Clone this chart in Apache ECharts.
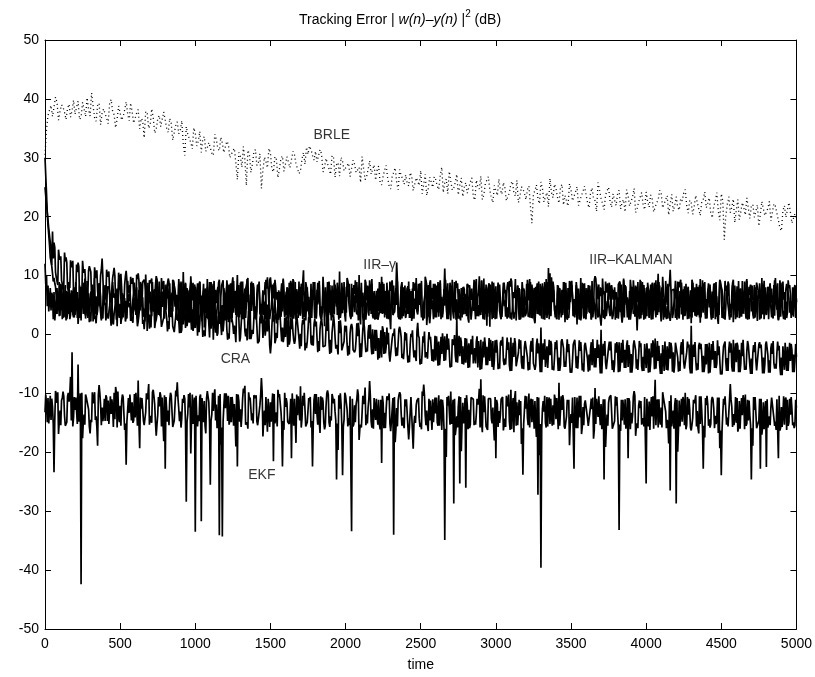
<!DOCTYPE html>
<html>
<head>
<meta charset="utf-8">
<script src="https://cdn.jsdelivr.net/npm/echarts@6/dist/echarts.min.js"></script>
<style>
html,body{margin:0;padding:0;background:#fff;}
#chart{width:815px;height:677px;}
</style>
</head>
<body>
<div id="chart"></div>
<script>
// time between stored samples = 5.
// "A" arrays: t = 0,20,40,...  "C": t = 5,25,45,...  "B": t = 10,30,50,...  "D": t = 15,35,55,...
const sampleStep = 5;

const brleA = [
30.5,37.2,38.9,36.8,39.4,37.9,38.6,36.5,39.1,38.0,
37.4,39.6,36.9,38.3,40.2,37.1,38.8,36.2,39.3,37.6,
38.5,35.8,39.9,37.3,36.6,38.7,37.0,39.5,36.3,37.8,
35.9,38.2,36.7,33.4,37.5,35.6,36.9,34.8,37.2,35.1,
36.4,34.3,35.8,33.2,36.1,34.6,32.4,35.3,33.7,31.5,
34.2,32.8,30.9,33.6,31.7,32.9,30.4,33.1,31.2,32.5,
30.7,32.3,29.8,31.6,26.3,30.2,31.9,25.3,30.6,28.9,
31.4,29.2,24.8,30.1,28.3,30.8,27.6,29.7,28.1,30.3,
27.4,29.9,28.6,30.5,29.3,27.8,30.9,31.8,32.0,30.4,
31.1,29.0,30.7,28.4,29.6,27.2,30.0,28.8,26.9,29.4,
27.7,29.1,26.5,28.9,27.3,25.8,28.2,26.8,29.5,27.0,
26.2,28.6,25.4,27.9,26.6,24.7,27.5,25.9,28.0,26.4,
27.1,25.2,26.9,24.3,26.0,27.8,25.5,23.6,26.7,25.0,
26.3,24.6,28.4,25.7,23.9,26.1,24.9,27.2,25.3,23.4,
25.8,24.2,26.6,22.8,25.1,26.9,23.7,25.4,24.5,22.4,
25.0,26.4,23.8,24.9,22.6,25.6,24.0,26.2,23.3,24.7,
22.9,25.2,18.9,24.4,23.1,25.9,22.5,24.1,26.5,23.2,
24.8,22.3,25.5,23.6,21.8,24.6,23.0,25.1,22.2,24.3,
23.7,21.5,24.9,22.7,25.8,23.1,21.2,24.4,22.6,23.9,
21.9,24.5,22.4,20.8,23.5,22.1,24.8,21.4,23.3,22.0,
24.2,21.6,23.0,20.5,22.8,24.0,21.3,23.6,22.2,20.9,
23.4,21.1,22.7,24.6,20.6,22.3,21.8,23.8,20.2,22.9,
21.5,23.2,19.8,22.6,21.0,23.9,16.1,22.1,20.7,23.0,
21.2,19.5,22.4,20.3,23.5,21.7,19.9,22.0,18.6,21.3,
20.1,22.6,19.2,21.8,20.4,17.6,21.9,19.6,20.8,19.0,
19.8];
const brleB = [
34.8,38.1,37.0,40.3,36.4,39.0,37.7,38.4,36.9,39.8,
38.6,36.5,39.4,37.0,38.2,41.0,36.8,38.9,35.6,38.3,
36.7,39.2,37.9,35.1,38.8,36.4,38.1,37.5,39.3,35.9,
37.6,34.9,36.3,37.9,35.0,38.3,34.2,36.6,35.3,37.8,
34.9,36.7,33.0,35.5,34.1,36.3,30.4,34.0,32.6,35.1,
32.0,34.5,33.2,31.1,32.6,30.8,34.0,31.6,33.5,30.9,
32.8,30.0,31.2,29.1,30.9,28.4,29.7,31.3,27.5,31.0,
28.7,30.7,27.9,29.4,31.6,28.0,30.2,26.6,29.9,27.7,
30.2,28.3,31.1,29.0,27.3,29.8,28.9,30.6,31.4,29.6,
29.3,31.4,27.6,29.9,28.1,30.4,26.7,29.2,30.1,27.8,
28.7,26.8,29.6,27.5,28.4,30.2,26.3,28.0,27.2,28.8,
27.9,25.8,26.9,28.7,25.2,26.8,28.3,24.6,27.0,25.5,
25.7,27.5,24.4,26.6,25.3,23.9,27.2,24.8,25.9,26.8,
25.2,27.0,24.1,26.4,27.7,24.5,25.8,23.7,26.6,25.0,
24.0,25.9,23.4,26.2,24.7,22.9,25.6,26.8,23.2,25.3,
23.6,24.5,25.8,22.7,24.1,26.0,23.5,22.4,25.1,24.0,
24.6,21.8,23.9,25.4,22.2,24.8,23.4,21.7,24.1,25.5,
23.3,24.9,22.0,23.8,25.6,22.7,24.2,21.9,23.6,25.2,
22.4,24.0,23.1,20.9,24.5,22.2,23.7,25.0,21.6,22.8,
23.9,21.3,22.9,24.6,21.8,23.4,20.7,22.5,24.1,21.2,
22.6,23.7,20.8,22.4,24.5,21.5,22.9,20.3,23.8,21.9,
21.6,23.1,24.0,21.9,22.8,20.4,23.6,21.3,22.5,24.2,
22.3,20.6,21.8,24.1,19.4,22.7,20.1,23.4,21.6,19.0,
22.9,20.8,21.5,23.2,19.7,22.1,20.9,18.4,22.6,20.2,
21.4,19.3,22.2,20.6,18.1,21.0,19.9,22.4,18.9,20.5];

const iirKalmanA = [
30.0,18.5,12.8,9.6,7.9,3.2,6.8,2.4,8.3,4.5,
5.9,1.8,7.4,3.6,9.1,4.8,2.2,6.5,8.7,3.1,
5.4,7.8,1.5,6.2,4.0,9.4,2.9,5.7,7.1,3.8,
6.6,2.3,8.5,4.4,0.6,7.3,5.2,3.0,9.0,4.7,
2.6,6.9,4.1,8.2,3.4,5.8,10.6,2.0,6.3,4.9,
7.7,3.3,5.5,1.2,8.0,4.3,6.7,2.7,9.3,5.0,
3.9,7.5,2.1,6.0,4.6,8.8,3.5,5.3,-0.8,6.4,
4.2,7.9,2.8,5.6,9.7,3.7,6.1,1.9,7.2,4.5,
5.8,2.5,8.4,4.1,6.6,3.2,10.9,5.1,2.4,7.0,
3.6,6.3,4.8,1.4,8.1,5.4,2.9,7.6,4.0,6.8,
2.2,5.9,8.6,3.8,6.2,1.7,7.4,4.6,9.2,3.1,
5.7,2.6,7.0,4.3,6.5,0.9,8.3,5.0,3.4,7.7,
4.4,9.0,2.3,6.1,3.9,7.5,5.2,1.6,8.7,4.8,
6.9,3.0,5.5,11.2,4.2,7.1,2.7,6.0,3.6,8.0,
5.3,2.0,7.8,4.5,6.4,3.3,9.5,5.6,1.3,6.7,
4.1,7.3,2.9,5.8,8.9,3.7,6.2,4.9,2.5,7.6,
5.0,3.4,8.2,1.9,6.6,4.3,7.0,2.8,10.4,5.5,
3.8,6.8,4.7,2.1,7.9,5.2,3.5,8.6,4.0,6.3,
2.6,5.7,9.1,3.9,6.0,1.5,7.4,4.4,5.9,3.2,
7.2,4.8,2.4,8.4,5.1,3.7,6.9,0.7,7.7,4.6,
6.1,3.0,8.8,4.2,5.6,2.2,7.3,4.9,11.0,3.6,
5.8,2.7,6.7,4.0,8.1,3.3,5.4,7.0,2.0,6.4,
4.5,8.7,3.1,5.9,1.8,7.5,4.7,6.2,3.5,9.3,
5.2,2.8,7.1,4.1,6.5,3.9,8.4,2.3,5.6,7.8,
3.4,6.0,4.6,9.6,2.5,5.7,7.2,3.7,6.8,4.3,
5.5];
const iirKalmanB = [
24.0,15.2,10.4,8.1,5.6,7.9,4.1,6.9,3.3,7.8,
4.6,8.3,5.9,2.7,7.0,5.1,9.6,4.0,6.4,8.2,
3.5,6.7,8.9,5.0,7.4,2.6,6.2,9.1,4.8,6.9,
8.0,4.9,6.3,10.2,5.3,3.1,7.7,5.9,2.9,8.4,
6.1,8.7,3.9,6.8,9.4,5.0,4.3,7.6,8.9,3.7,
5.6,9.0,6.4,3.6,7.1,8.6,4.7,6.0,2.8,7.9,
8.3,5.2,9.7,4.4,6.6,3.1,7.8,5.5,8.8,4.1,
6.9,3.4,7.5,9.3,4.8,6.3,8.5,5.1,3.0,7.2,
4.5,8.0,6.2,2.5,9.0,5.7,7.3,3.9,8.6,5.9,
7.6,4.2,9.8,6.1,3.7,8.3,5.4,7.0,4.6,8.9,
6.4,3.2,7.9,5.3,10.1,4.7,6.8,8.2,3.5,7.4,
4.9,8.6,6.0,3.3,7.5,9.2,5.6,2.9,8.1,6.2,
7.8,4.4,6.9,9.6,5.0,3.6,7.2,8.4,4.3,6.7,
3.8,8.7,5.5,7.1,4.1,9.3,6.4,3.4,7.9,5.2,
8.5,6.3,4.0,7.6,9.9,5.4,3.5,8.1,6.6,4.8,
7.3,3.1,8.8,5.7,6.9,4.3,9.4,5.9,7.7,3.9,
6.5,8.9,4.6,7.2,3.7,8.2,5.8,11.3,6.1,4.2,
8.4,5.1,7.0,3.2,9.1,6.6,4.5,7.8,5.3,8.7,
4.8,7.5,6.2,8.6,3.6,9.5,5.7,7.1,4.0,8.0,
6.3,3.8,9.2,5.0,7.4,4.4,8.3,6.0,3.3,7.9,
5.5,8.5,4.1,7.3,6.4,9.8,3.7,8.0,5.2,6.8,
9.0,4.6,7.7,5.9,3.4,8.8,6.2,4.9,8.1,5.6,
7.1,3.6,8.6,6.5,9.3,4.7,7.4,3.9,6.9,8.3,
4.3,7.8,5.4,9.1,6.7,3.5,8.0,6.1,9.6,4.9,
7.6,5.3,8.4,4.2,6.8,9.0,5.6,7.9,4.5,8.2];
const iirKalmanC = [
27.0,16.9,11.6,8.7,4.2,8.6,3.0,7.4,2.6,6.2,
8.9,3.4,6.1,9.5,2.8,7.3,5.6,3.3,8.0,5.1,
2.4,8.2,4.5,7.0,3.1,9.7,5.3,2.7,8.4,6.0,
3.3,7.6,5.0,2.2,8.8,4.0,6.9,9.2,3.8,6.5,
8.5,2.9,7.1,4.7,2.3,9.0,5.4,3.6,7.8,2.4,
6.3,8.1,2.2,7.6,5.9,3.5,9.1,4.4,6.7,3.0,
7.0,2.7,8.6,5.1,3.0,7.3,4.9,9.4,2.6,8.1,
3.2,9.0,5.3,2.6,7.7,4.4,8.8,3.1,6.0,9.5,
7.3,3.9,5.6,8.9,2.8,6.4,4.2,8.0,3.5,6.6,
2.9,8.4,3.6,7.3,5.5,2.4,9.3,3.3,7.1,4.2,
8.1,4.5,3.0,6.6,2.4,8.8,3.9,5.7,7.9,2.7,
7.4,3.8,8.9,5.1,2.6,6.4,3.7,9.0,5.9,3.1,
6.0,2.8,7.8,4.3,8.6,2.9,5.4,3.5,9.2,2.6,
8.3,5.6,2.9,6.8,3.3,5.9,8.9,2.7,5.4,3.4,
3.1,8.4,5.0,2.6,7.2,9.1,4.1,3.0,8.5,2.8,
6.9,4.0,5.9,3.0,7.8,2.5,6.6,8.3,4.0,2.9,
8.6,2.9,6.3,4.4,9.0,2.7,8.9,4.3,3.1,7.5,
2.6,7.9,3.3,6.6,4.2,8.4,2.9,5.7,9.6,2.7,
7.6,3.6,4.4,2.6,8.5,3.8,2.9,6.2,8.3,4.7,
4.3,8.8,3.9,6.5,2.9,8.1,3.0,4.6,9.1,2.5,
8.0,4.6,6.4,2.9,8.9,3.8,5.1,2.7,7.5,5.3,
3.2,7.4,2.5,8.6,5.0,2.9,8.0,3.3,6.3,8.7,
2.7,6.5,4.9,3.0,6.3,2.8,9.1,5.0,2.9,5.4,
8.2,3.3,6.4,2.7,8.1,5.7,2.9,7.4,3.6,2.6,
5.4,8.7,2.9,6.5,3.2,7.2,3.0,9.2,2.8,6.3];
const iirKalmanD = [
20.5,13.1,9.0,6.3,8.9,2.6,8.4,3.5,7.5,2.9,
7.2,2.8,8.8,4.4,3.1,8.5,3.4,7.9,2.7,5.0,
8.2,3.2,7.0,2.5,8.6,4.6,3.6,7.5,2.6,8.8,
2.9,8.9,3.0,7.0,5.6,8.9,2.5,4.7,7.3,2.7,
7.9,4.4,9.2,2.5,7.7,3.1,8.6,2.3,4.6,8.5,
3.2,6.2,8.6,3.8,2.6,7.3,2.6,8.8,3.7,6.6,
2.5,8.7,3.7,7.6,2.9,9.0,2.8,6.8,4.0,2.7,
8.4,5.2,3.3,7.8,2.6,8.5,3.0,7.5,4.6,2.9,
3.0,9.1,2.7,7.7,3.6,8.8,2.4,6.4,2.8,8.9,
5.1,2.7,7.1,3.0,8.4,2.9,7.0,2.5,8.8,3.3,
8.8,2.8,6.6,8.9,3.0,7.1,2.5,4.0,8.6,3.1,
2.5,6.9,3.6,8.8,2.8,5.0,7.9,3.9,2.7,8.3,
3.5,7.4,2.7,4.8,7.7,2.4,8.8,3.0,5.9,8.6,
8.0,2.6,7.3,2.8,8.8,3.6,2.5,7.7,2.9,6.9,
2.7,5.9,8.8,3.1,4.5,2.6,6.0,8.7,2.6,7.7,
8.8,2.6,4.8,8.1,2.7,7.2,2.4,7.9,2.9,6.4,
3.0,6.0,2.6,8.7,3.2,5.1,8.6,2.6,7.8,3.4,
6.8,2.9,8.9,2.6,5.5,3.1,8.9,2.5,6.9,3.0,
8.4,2.5,5.2,8.9,2.7,6.8,3.1,8.8,2.6,5.9,
2.7,8.5,2.9,6.3,2.5,9.2,4.1,2.9,8.5,2.7,
7.8,2.5,8.6,3.3,4.0,7.2,2.6,8.6,2.8,9.1,
3.3,8.8,3.1,7.6,3.1,6.1,3.0,8.4,4.3,2.7,
8.7,2.7,6.3,2.8,8.9,3.0,8.3,2.5,8.7,3.3,
6.5,3.0,9.0,2.5,8.4,2.7,5.2,8.7,3.4,8.0,
2.6,7.8,3.2,8.7,3.0,5.9,2.8,8.4,3.3,7.0];

const iirGammaA = [
25.0,19.4,14.2,15.6,9.8,12.7,7.6,13.1,8.9,11.4,
6.8,12.2,8.1,10.5,5.9,11.8,7.3,9.6,4.8,12.9,
8.4,10.2,6.1,11.3,7.8,9.1,5.2,10.8,7.0,8.6,
4.6,10.4,6.9,9.3,5.5,8.7,3.9,9.9,6.4,7.7,
5.1,9.5,3.6,8.3,6.7,4.4,9.0,2.8,7.4,5.8,
8.1,3.2,6.6,4.9,9.4,2.5,7.1,5.3,3.8,8.5,
6.0,2.1,7.9,4.5,10.1,3.4,5.7,7.5,1.6,6.3,
4.8,8.2,3.0,6.8,5.1,9.7,2.7,5.9,7.2,3.9,
6.5,1.8,8.6,4.2,7.0,3.5,5.6,9.2,2.9,6.1,
4.4,7.8,2.4,5.7,8.9,3.3,6.2,4.7,10.7,3.6,
5.5,8.0,2.6,6.9,4.1,7.6,1.4,5.8,8.4,3.7,
6.3,4.0,9.8,2.9,5.2,7.4,3.5,12.2,4.6,6.7,
2.8,7.1,5.0,8.3,3.4,6.0,4.3,9.1,1.9,5.9,
7.5,3.7,6.4,4.9,8.7,2.4,5.5,7.9,3.1,6.6,
4.5,8.9,2.6,6.2,5.0,3.8,7.7,1.5,6.9,4.2,
8.2,5.4,3.0,7.0,4.6,9.5,2.7,6.1,4.8,7.4,
3.5,5.8,8.5,2.2,6.7,4.1,7.3,3.6,5.3,9.0,
4.9,2.5,7.6,5.7,3.3,8.4,6.0,1.7,6.8,4.4,
7.9,3.8,5.6,9.9,2.9,6.5,4.2,7.1,3.1,5.9,
4.7,8.6,2.0,6.3,5.1,7.8,3.4,5.5,9.3,4.0,
6.6,2.8,7.5,4.5,10.3,3.6,6.1,5.0,2.3,7.2,
4.3,8.0,5.8,3.2,6.9,1.9,7.7,4.8,9.4,3.7,
6.0,4.6,7.3,2.6,5.4,8.8,3.9,6.5,5.2,2.1,
7.0,4.1,9.1,3.5,6.2,5.6,2.8,8.1,4.4,6.7,
3.3,7.4,5.1,8.5,2.4,6.4,4.0,7.8,5.7,3.0,
6.1];
const iirGammaB = [
22.0,16.8,17.5,10.6,14.4,9.2,13.9,8.0,12.6,7.1,
11.9,6.5,12.5,8.8,10.9,6.0,11.4,7.5,10.1,6.3,
11.0,7.2,9.6,5.4,10.5,7.9,8.4,4.9,9.8,6.6,
10.2,5.2,8.9,7.4,4.3,9.5,6.0,8.2,5.1,9.1,
7.0,4.8,9.3,6.2,8.6,3.5,7.7,5.9,9.9,4.4,
6.8,8.9,4.0,7.3,5.5,9.0,3.7,8.1,6.4,4.7,
9.2,5.8,7.6,3.3,8.4,6.1,4.6,9.6,5.0,7.9,
3.9,7.4,6.0,8.8,4.2,6.7,9.3,4.9,7.1,5.6,
8.0,4.5,9.4,6.3,3.6,8.2,5.4,7.0,4.1,9.1,
6.2,3.4,7.7,5.1,9.0,4.3,8.5,6.8,3.8,7.6,
9.6,5.0,6.7,4.2,8.1,5.7,9.3,3.9,7.2,6.0,
4.8,8.7,5.9,7.5,3.5,9.1,6.3,4.7,8.2,5.2,
7.8,3.9,8.9,5.6,6.9,4.4,9.8,6.0,7.3,4.1,
5.5,9.2,4.6,7.0,6.1,8.3,3.8,9.0,5.3,7.7,
8.6,4.9,6.6,9.4,3.6,7.3,5.8,8.0,4.3,6.9,
5.1,8.4,7.2,4.0,9.1,6.2,3.9,8.5,5.6,7.4,
9.3,4.4,6.8,7.9,5.2,8.7,4.1,6.4,9.7,5.0,
7.0,3.7,8.9,6.1,4.8,9.2,5.5,7.8,3.3,8.3,
5.9,8.1,4.3,7.4,6.6,3.9,9.0,5.2,8.4,6.3,
4.6,7.2,9.5,5.4,3.8,8.0,6.7,4.5,7.9,5.7,
8.8,5.0,6.9,3.4,8.3,6.0,9.1,4.2,7.5,5.3,
6.6,9.3,4.9,7.7,5.6,8.6,3.6,6.8,4.8,8.9,
7.3,5.5,8.2,3.9,9.0,6.4,4.7,8.5,5.9,7.1,
4.4,8.0,6.2,9.4,5.1,7.6,3.7,6.9,8.7,5.4,
8.1,4.6,7.0,5.8,9.2,3.5,7.7,6.1,4.9,8.4];
const iirGammaC = [
23.5,18.0,11.8,14.8,8.4,13.3,8.3,12.2,7.9,12.5,
7.4,11.5,6.7,11.1,7.0,10.6,6.4,10.9,6.9,9.8,
6.3,10.7,5.9,9.9,6.2,10.3,4.8,9.2,5.6,9.6,
3.8,9.1,4.7,8.5,3.4,8.8,4.9,9.4,3.2,8.6,
4.2,8.9,2.9,7.6,4.9,8.7,2.8,7.9,3.9,8.8,
2.8,8.4,3.7,7.8,2.6,8.9,4.3,7.0,2.7,9.2,
3.9,8.5,2.8,7.4,3.5,9.0,2.6,8.0,4.5,8.7,
2.5,7.6,3.6,8.9,2.7,8.2,3.8,7.2,2.9,9.3,
3.2,8.8,2.5,7.7,4.0,8.6,2.9,7.3,3.6,8.9,
2.7,9.1,3.9,8.0,2.4,7.5,3.4,8.8,2.8,7.9,
3.7,8.6,2.6,9.2,3.3,7.8,2.9,8.3,4.1,7.1,
2.6,8.9,3.5,7.4,2.8,8.5,3.9,9.0,2.5,8.0,
3.8,7.7,2.6,8.8,3.3,9.1,2.7,7.6,3.6,8.6,
2.9,8.2,3.4,9.3,2.6,7.5,3.8,8.7,2.4,8.1,
3.6,7.9,2.8,8.6,3.1,9.2,2.5,7.3,3.9,8.8,
2.7,8.5,3.3,7.6,2.9,9.0,3.5,8.3,2.6,7.8,
3.9,9.4,2.7,8.1,3.4,7.4,2.5,8.9,3.2,8.0,
2.6,7.7,3.6,8.8,2.8,9.1,3.3,7.5,2.4,8.6,
3.5,8.3,2.9,9.5,3.7,7.9,2.6,8.7,3.0,7.6,
2.8,9.0,3.4,8.2,2.5,7.8,3.9,8.9,2.7,8.4,
3.1,7.5,2.6,9.2,3.8,8.0,2.9,8.6,3.4,7.7,
2.5,8.8,3.6,7.9,2.7,9.3,3.2,8.1,2.9,7.4,
3.7,8.5,2.8,8.9,3.3,7.6,2.5,9.0,3.6,8.2,
2.9,7.8,3.5,8.7,2.6,8.3,3.9,7.5,2.7,9.1,
3.3,8.6,2.7,7.9,3.8,8.8,2.5,8.1,3.4,7.7];
const iirGammaD = [
20.8,15.7,12.9,9.7,13.1,8.6,12.4,7.4,11.8,8.0,
10.6,7.1,10.9,6.2,11.6,6.8,10.2,5.7,11.0,5.9,
9.8,5.5,10.4,6.7,9.1,4.6,9.9,5.8,8.6,4.5,
9.4,4.1,8.6,3.7,9.2,4.4,8.3,3.3,9.6,4.8,
8.6,3.0,8.9,4.1,7.5,2.7,8.8,3.4,7.7,2.9,
8.7,3.6,7.4,2.9,8.9,3.8,7.6,2.5,8.3,3.5,
7.8,2.7,9.1,3.3,8.4,2.6,7.7,3.9,9.0,2.8,
8.5,3.4,7.3,2.6,9.2,3.7,8.0,2.5,8.7,3.2,
7.6,2.9,9.0,3.5,8.1,2.6,8.9,3.8,7.4,2.7,
8.8,3.3,7.7,2.5,9.3,3.6,8.2,2.8,7.9,3.9,
9.1,2.6,8.4,3.4,7.5,2.9,8.8,3.2,9.4,2.5,
7.8,3.6,8.6,2.7,9.0,3.3,7.6,2.6,8.9,3.7,
8.2,2.8,7.4,3.9,8.7,2.5,9.2,3.4,7.9,2.9,
8.9,3.2,7.7,2.6,8.4,3.8,9.1,2.7,7.5,3.5,
8.6,2.5,9.3,3.3,7.8,2.8,8.5,3.6,9.0,2.6,
7.7,3.4,8.8,2.7,8.1,3.9,7.6,2.5,8.9,3.1,
9.2,2.8,7.9,3.5,8.6,2.6,9.4,3.3,7.5,2.9,
8.3,3.7,7.6,2.5,9.0,3.2,8.4,2.7,8.8,3.6,
7.9,2.6,9.2,3.4,8.0,2.8,8.7,3.9,7.4,2.5,
8.5,3.3,7.8,2.9,9.3,3.5,8.1,2.6,8.9,3.0,
7.6,2.7,8.8,3.6,8.3,2.5,9.1,3.2,7.7,2.8,
8.9,3.4,8.2,2.6,7.5,3.8,8.6,2.9,9.2,3.3,
7.8,2.5,8.7,3.5,9.0,2.7,7.9,3.1,8.4,2.6,
9.1,3.6,7.6,2.8,8.5,3.3,8.8,2.5,7.7,3.9,
8.3,2.9,9.2,3.4,7.8,2.6,8.6,3.7,8.0,2.8];

const craA = [
12.0,8.3,4.1,7.2,3.5,6.6,2.8,5.9,4.0,7.4,
3.3,6.1,2.4,5.7,7.9,3.8,4.9,1.9,6.4,4.2,
5.8,2.7,6.9,3.6,1.4,5.2,7.3,2.9,4.6,3.1,
6.2,2.2,4.8,0.9,5.5,3.4,6.8,2.5,4.1,1.6,
5.0,2.3,3.8,0.4,4.6,6.1,1.7,3.5,2.0,4.3,
1.1,3.7,5.4,0.6,2.8,4.1,-0.9,3.2,1.8,4.8,
2.4,0.2,3.9,1.5,5.3,-0.6,2.7,1.0,3.6,0.8,
2.9,-1.2,1.9,3.4,0.5,-3.2,2.2,0.3,4.4,1.2,
-0.4,2.5,0.9,-1.6,3.1,0.1,1.7,-2.3,2.0,-0.2,
1.4,-1.1,2.6,-2.0,0.6,-0.9,3.3,-1.8,0.2,-2.7,
0.5,-1.9,1.8,-3.0,-0.3,-1.5,2.1,-2.4,-0.7,0.9,
-2.8,-0.6,-3.9,0.4,-1.7,-4.6,-0.2,-2.2,1.3,-3.3,
-1.0,-3.6,-0.4,-2.7,2.0,-4.2,-1.4,-3.0,-0.8,-2.5,
-4.4,-1.2,-3.3,-0.3,-2.6,-5.1,-1.8,3.0,-3.7,-2.0,
-4.8,-1.5,-3.4,-2.3,-5.6,-0.9,-3.9,-2.1,-4.5,-1.1,
-3.1,-5.0,-1.9,-4.1,-2.6,-0.5,-3.8,-5.3,-2.4,-3.6,
-1.4,-4.7,-2.9,-6.0,-3.2,1.2,-4.3,-2.0,-3.5,-5.4,
-2.5,-3.9,-0.8,-4.6,-3.0,-5.8,-1.9,-3.7,-2.8,-4.9,
-1.6,-3.4,-5.2,-2.3,-4.0,0.8,-3.6,-6.1,-2.7,-4.4,
-3.1,-1.3,-4.8,-2.6,-5.5,-3.3,-1.0,-4.2,-2.1,-3.8,
-5.7,-2.4,-3.9,-0.7,-4.5,-3.2,-6.2,-2.0,-4.1,-3.0,
-1.7,-4.6,-3.4,-5.9,-2.2,1.5,-3.8,-4.9,-2.5,-3.6,
-5.1,-1.4,-4.3,-2.8,-3.5,-6.3,-2.0,-4.0,-3.1,-0.9,
-4.7,-2.6,-3.7,-5.4,-1.8,-4.1,-3.0,-5.8,-2.3,-3.9,
-1.2,-4.4,-3.3,-5.0,-2.7,-3.9,-6.0,-2.1,-4.5,-3.4,
-3.8];
const craB = [
10.1,5.6,6.5,3.9,5.2,8.0,4.4,3.6,6.3,2.9,
5.4,4.0,7.1,3.2,4.7,6.3,2.6,5.0,3.7,6.6,
3.0,4.9,2.1,5.6,4.2,3.0,5.1,6.0,2.3,5.5,
3.7,4.6,1.8,3.9,2.6,5.2,1.1,4.4,3.3,2.9,
2.7,4.9,1.4,3.1,2.4,0.8,4.0,2.6,5.2,1.5,
3.4,1.9,-0.4,2.9,4.3,1.3,2.5,0.2,3.9,2.1,
0.9,3.2,1.7,-1.3,2.6,3.8,0.6,2.1,-0.8,2.8,
1.3,2.7,-0.6,1.0,2.5,1.6,-1.5,3.1,0.7,-0.4,
1.9,-1.0,0.4,2.2,-0.7,1.5,-2.7,0.8,-1.4,1.7,
-0.6,0.9,-2.1,1.2,-1.4,0.3,-0.5,-3.4,1.0,-1.2,
-1.6,0.2,-2.6,-0.9,0.7,-3.5,-1.1,0.4,-2.0,-1.5,
-0.9,-2.4,0.8,-2.1,-3.3,-0.7,-1.9,-3.8,-0.5,-2.4,
-3.1,-1.7,-2.2,-4.5,-0.6,-2.9,-3.9,-1.5,-2.3,-4.0,
-2.2,-3.7,-1.6,-4.1,-2.9,-0.8,-3.5,-2.4,-1.3,-4.3,
-3.0,-2.6,-4.9,-1.2,-3.3,-4.1,-1.9,-3.6,-2.0,-4.4,
-2.7,-1.4,-4.4,-2.9,-5.2,-3.4,-1.6,-3.1,-4.7,-2.2,
-3.9,-2.1,-4.9,-1.8,-3.8,-2.6,-5.5,-3.1,-1.7,-4.0,
-3.6,-5.1,-2.3,-3.0,-1.3,-4.4,-2.8,-5.6,-3.2,-1.9,
-4.2,-2.5,-3.7,-5.3,-1.5,-3.0,-4.8,-2.2,-3.9,-5.0,
-2.4,-4.6,-3.5,-1.9,-3.1,-5.0,-2.7,-3.6,-5.4,-1.6,
-3.3,-4.8,-2.1,-3.7,-5.2,-1.8,-4.0,-3.4,-2.3,-5.1,
-3.9,-2.2,-4.7,-3.0,-5.6,-2.6,-4.3,-1.9,-3.4,-5.3,
-2.9,-4.5,-3.3,-5.0,-1.7,-3.8,-4.6,-2.5,-5.5,-3.2,
-2.0,-4.9,-3.6,-2.8,-5.2,-3.1,-4.4,-1.7,-3.9,-5.0,
-3.5,-2.3,-4.8,-3.2,-5.4,-2.0,-4.1,-3.7,-2.6,-4.6];
const craC = [
8.6,3.9,7.1,2.4,6.8,4.1,8.2,2.6,7.0,3.5,
6.9,2.9,7.6,3.7,6.1,2.2,7.3,4.0,6.6,2.7,
7.0,2.5,5.9,3.3,6.7,1.8,6.2,3.9,5.4,2.0,
6.5,1.9,5.6,2.8,6.0,1.2,5.3,2.4,6.4,1.5,
5.2,0.9,4.6,1.8,5.7,0.3,4.8,1.4,5.0,0.6,
4.5,0.4,5.1,-0.3,4.2,1.0,4.9,-0.2,3.8,0.5,
4.4,-0.7,3.6,0.3,4.7,-0.4,3.9,-1.0,4.1,0.1,
3.7,-1.1,3.2,-0.2,4.2,-1.6,3.4,-0.6,3.0,-1.3,
3.1,-1.7,2.6,-0.9,3.4,-2.0,2.8,-1.2,3.3,-1.9,
2.2,-2.8,1.6,-1.9,2.7,-3.1,1.9,-2.2,2.4,-2.6,
1.5,-3.4,1.1,-2.6,2.0,-3.8,1.3,-2.9,1.7,-3.3,
0.8,-4.0,1.4,-3.2,0.3,-4.5,1.0,-3.6,0.6,-4.2,
0.2,-4.7,0.7,-3.8,-0.2,-5.0,0.5,-4.1,-0.4,-4.6,
-0.3,-5.2,0.2,-4.4,-0.7,-5.5,-0.1,-4.8,-0.5,-5.1,
-0.7,-5.6,-0.2,-4.9,-1.1,-5.9,-0.5,-5.2,-0.9,-6.0,
-0.9,-5.8,-0.4,-5.1,-1.3,-6.2,-0.6,-5.5,-1.0,-5.9,
-1.2,-6.0,-0.6,-5.3,-1.5,-6.4,-0.8,-5.7,-1.1,-6.1,
-1.0,-6.2,-0.7,-5.5,-1.6,-6.5,-0.9,-5.8,-1.3,-6.3,
-1.4,-6.1,-0.8,-5.6,-1.7,-6.6,-1.1,-5.9,-1.2,-6.4,
-1.3,-6.3,-0.9,-5.7,-1.8,-6.5,-1.0,-6.0,-1.5,-6.2,
-1.5,-6.4,-1.0,-5.8,-1.9,-6.7,-1.2,-6.1,-1.4,-6.5,
-1.2,-6.2,-0.8,-5.9,-1.7,-6.6,-1.3,-6.0,-1.6,-6.4,
-1.6,-6.5,-1.1,-5.7,-2.0,-6.8,-1.2,-6.2,-1.5,-6.3,
-1.4,-6.4,-0.9,-6.0,-1.8,-6.7,-1.3,-6.1,-1.7,-6.6,
-1.5,-6.5,-1.1,-5.8,-1.9,-6.9,-1.4,-6.2,-1.6,-6.4];
const craD = [
4.8,7.9,2.6,6.4,3.1,7.7,2.9,6.1,3.8,7.2,
2.8,6.7,3.5,7.4,2.1,6.3,3.2,7.8,2.4,6.0,
3.6,6.6,1.7,6.1,2.8,7.0,2.2,5.7,3.0,6.3,
1.4,5.9,2.5,6.3,1.0,5.5,2.1,6.0,1.3,5.4,
0.5,5.1,1.6,4.5,0.2,5.4,1.1,4.7,0.8,5.3,
-0.2,4.6,0.7,4.0,-0.5,4.8,0.3,3.9,-0.1,4.4,
-0.9,3.9,0.1,4.3,-1.2,3.5,-0.3,4.0,-0.8,3.7,
-1.5,3.5,-0.5,3.0,-1.8,3.9,-0.9,3.3,-1.2,2.8,
-2.1,2.9,-1.0,3.4,-2.4,2.5,-1.4,3.0,-1.8,2.6,
-3.0,2.1,-2.0,2.6,-3.3,1.7,-2.4,2.3,-2.7,1.5,
-3.6,1.4,-2.7,1.9,-3.9,1.0,-3.0,1.6,-3.4,0.8,
-4.3,0.7,-3.3,1.2,-4.6,0.2,-3.7,0.9,-4.0,0.4,
-4.8,0.1,-3.9,0.6,-5.1,-0.3,-4.2,0.4,-4.5,-0.2,
-5.3,-0.4,-4.5,0.1,-5.6,-0.8,-4.7,-0.2,-5.0,-0.6,
-5.7,-0.8,-5.0,-0.3,-6.0,-1.2,-5.2,-0.6,-5.5,-1.0,
-5.9,-1.0,-5.2,-0.5,-6.2,-1.4,-5.4,-0.8,-5.8,-1.1,
-6.1,-1.1,-5.4,-0.7,-6.4,-1.5,-5.6,-0.9,-6.0,-1.3,
-6.2,-1.2,-5.5,-0.8,-6.5,-1.7,-5.7,-1.0,-6.1,-1.4,
-6.3,-1.3,-5.6,-0.9,-6.6,-1.6,-5.9,-1.2,-6.0,-1.5,
-6.4,-1.4,-5.7,-1.0,-6.5,-1.8,-5.8,-1.1,-6.2,-1.6,
-6.5,-1.5,-5.9,-1.1,-6.7,-1.9,-6.0,-1.3,-6.3,-1.4,
-6.3,-1.3,-5.8,-1.2,-6.6,-1.7,-6.1,-1.4,-6.4,-1.6,
-6.6,-1.6,-5.7,-1.0,-6.8,-2.0,-6.2,-1.2,-6.3,-1.5,
-6.4,-1.4,-6.0,-1.1,-6.7,-1.8,-6.1,-1.3,-6.6,-1.7,
-6.5,-1.5,-5.8,-1.2,-6.9,-1.9,-6.2,-1.4,-6.4,-1.6];

const ekfA = [
-13.2,-10.8,-14.5,-23.4,-11.6,-12.9,-9.7,-15.2,-11.4,-3.0,
-12.8,-5.1,-42.4,-13.6,-10.9,-16.8,-11.7,-13.9,-8.6,-12.4,
-14.7,-11.2,-13.5,-9.9,-15.8,-12.1,-10.6,-22.1,-13.3,-11.5,
-14.1,-7.8,-12.6,-15.4,-11.0,-13.8,-9.4,-17.2,-12.2,-10.7,
-22.8,-12.9,-10.3,-14.6,-8.1,-13.1,-11.6,-28.4,-12.4,-10.2,
-33.5,-13.7,-31.7,-11.3,-9.6,-25.5,-13.0,-11.9,-34.1,-34.3,
-12.5,-10.4,-14.9,-11.8,-22.4,-12.7,-9.2,-15.6,-11.1,-13.4,
-10.8,-14.3,-7.4,-12.9,-16.5,-11.5,-21.5,-13.2,-10.1,-22.4,
-12.3,-14.8,-21.0,-10.9,-13.7,-8.8,-12.1,-15.9,-11.3,-22.4,
-13.5,-10.6,-12.8,-16.1,-9.5,-13.9,-11.7,-24.6,-12.6,-23.9,
-10.4,-14.2,-33.4,-12.0,-9.3,-15.3,-11.8,-13.6,-7.9,-12.7,
-14.5,-11.1,-21.8,-13.3,-10.2,-16.4,-34.0,-12.5,-9.8,-14.1,
-12.2,-17.8,-10.7,-13.8,-11.4,-15.0,-8.5,-12.9,-14.6,-11.0,
-13.4,-10.3,-16.2,-34.9,-12.1,-9.7,-28.7,-13.9,-25.3,-11.6,
-26.0,-12.8,-10.5,-14.7,-11.9,-7.6,-13.2,-15.5,-10.8,-12.4,
-21.0,-13.0,-10.9,-14.3,-12.2,-9.4,-16.6,-11.5,-13.7,-23.8,
-12.6,-10.0,-14.9,-11.3,-27.2,-39.6,-13.1,-10.6,-15.2,-12.0,
-14.4,-8.2,-12.8,-16.0,-11.6,-13.5,-22.8,-10.7,-14.1,-12.3,
-10.9,-15.4,-12.7,-9.1,-14.0,-11.8,-24.6,-13.6,-10.4,-15.7,
-12.1,-33.2,-14.6,-11.0,-21.0,-13.3,-9.6,-15.1,-12.5,-14.2,
-25.3,-11.4,-13.9,-7.7,-15.8,-12.4,-10.8,-14.5,-26.5,-12.9,
-28.7,-11.2,-14.8,-9.9,-13.6,-16.3,-11.7,-13.0,-15.2,-22.8,
-12.0,-14.4,-10.6,-13.8,-16.7,-23.9,-11.9,-14.1,-8.4,-13.5,
-15.0,-11.3,-13.7,-10.2,-14.6,-24.6,-12.8,-15.5,-22.8,-11.5,
-22.5,-13.9,-10.9,-14.8,-21.0,-12.3,-15.3,-11.1,-13.6,-14.9,
-12.4];
const ekfB = [
-11.9,-14.8,-12.3,-9.6,-16.9,-11.2,-13.8,-10.5,-7.2,-14.1,
-11.0,-13.4,-17.6,-10.2,-12.7,-14.9,-9.8,-18.9,-12.0,-13.5,
-10.7,-15.5,-12.4,-8.9,-13.9,-11.3,-16.2,-12.8,-10.1,-14.6,
-12.5,-19.3,-10.8,-13.2,-8.4,-15.0,-11.9,-13.7,-10.4,-18.1,
-13.0,-11.1,-15.7,-9.5,-12.6,-14.2,-10.9,-13.5,-20.2,-11.7,
-14.0,-10.6,-12.9,-16.8,-11.5,-13.6,-9.3,-15.4,-18.7,-12.2,
-10.9,-14.5,-12.1,-19.0,-11.4,-13.7,-8.7,-16.0,-12.6,-10.3,
-14.8,-12.0,-17.3,-10.6,-13.4,-11.8,-15.1,-9.4,-13.0,-16.2,
-11.6,-13.9,-10.2,-18.4,-12.4,-14.3,-9.9,-12.9,-15.8,-11.1,
-13.6,-16.7,-11.3,-12.2,-14.9,-10.1,-13.1,-19.6,-11.8,-14.4,
-12.7,-10.5,-15.6,-11.9,-17.9,-13.3,-9.0,-12.4,-14.7,-10.8,
-13.9,-16.1,-11.6,-12.8,-10.0,-14.6,-18.3,-11.2,-13.4,-15.9,
-10.9,-13.1,-19.4,-12.0,-14.2,-9.7,-13.8,-16.4,-11.5,-12.6,
-14.9,-11.7,-12.5,-20.8,-10.6,-13.6,-17.1,-12.2,-19.8,-14.0,
-12.1,-15.3,-11.0,-13.5,-9.2,-16.6,-12.8,-10.9,-14.3,-18.0,
-11.8,-13.7,-16.3,-10.4,-14.8,-12.3,-9.6,-15.7,-18.6,-12.9,
-14.1,-11.5,-13.2,-17.4,-20.5,-12.6,-15.0,-11.3,-13.8,-10.2,
-12.9,-15.6,-11.1,-13.9,-18.8,-10.7,-14.4,-12.4,-16.9,-11.8,
-14.3,-12.2,-17.7,-10.9,-13.4,-15.8,-19.1,-11.6,-13.0,-14.7,
-10.8,-16.4,-12.7,-14.9,-11.4,-13.6,-17.2,-12.1,-15.3,-10.6,
-13.8,-12.5,-16.0,-11.7,-14.4,-9.8,-13.1,-18.5,-15.6,-12.0,
-19.9,-13.3,-11.5,-15.4,-12.8,-14.1,-10.3,-16.8,-13.0,-17.5,
-11.9,-15.2,-12.6,-14.5,-19.3,-13.4,-10.8,-15.9,-12.3,-14.0,
-16.5,-12.9,-11.2,-15.1,-13.7,-18.9,-10.5,-14.6,-17.0,-13.2,
-15.8,-12.4,-14.2,-11.0,-16.3,-13.5,-10.7,-14.9,-12.6,-15.4];
const ekfC = [
-10.2,-15.1,-10.9,-14.6,-9.8,-15.4,-10.5,-14.9,-10.1,-15.6,
-10.7,-14.8,-9.9,-15.3,-10.4,-14.5,-10.8,-15.7,-10.0,-14.7,
-10.3,-15.2,-11.0,-14.4,-9.7,-15.5,-10.6,-14.8,-10.2,-15.0,
-9.9,-14.9,-10.8,-15.6,-10.1,-14.6,-10.5,-15.3,-9.8,-14.7,
-10.6,-15.4,-10.0,-14.5,-10.9,-15.8,-10.3,-14.9,-9.9,-15.2,
-10.4,-14.7,-10.8,-15.5,-9.8,-14.6,-10.5,-15.9,-10.1,-14.8,
-10.0,-15.3,-10.6,-14.5,-10.2,-15.7,-9.9,-14.9,-10.7,-15.1,
-10.3,-14.6,-9.8,-15.4,-10.9,-14.8,-10.1,-15.6,-10.4,-14.7,
-10.8,-15.2,-10.0,-14.5,-10.5,-15.8,-9.9,-14.9,-10.6,-15.3,
-10.1,-14.8,-10.7,-15.5,-10.2,-14.6,-10.9,-15.1,-10.0,-15.7,
-10.6,-15.4,-10.9,-14.9,-10.3,-15.8,-11.0,-15.1,-10.5,-16.0,
-10.9,-15.2,-10.4,-15.9,-11.1,-14.8,-10.6,-15.6,-10.2,-15.3,
-11.0,-15.7,-10.5,-15.0,-10.8,-16.1,-10.3,-15.4,-11.2,-14.9,
-10.7,-15.5,-11.1,-16.0,-10.4,-15.2,-10.9,-15.8,-10.6,-15.1,
-10.3,-15.9,-10.8,-15.3,-11.2,-14.9,-10.5,-16.2,-10.9,-15.5,
-11.1,-15.0,-10.6,-15.7,-10.2,-16.1,-10.8,-15.4,-11.3,-15.2,
-10.5,-15.8,-11.0,-15.1,-10.7,-16.0,-10.4,-15.6,-10.9,-15.3,
-10.8,-15.5,-10.3,-16.2,-11.1,-15.0,-10.6,-15.9,-10.4,-15.4,
-11.2,-15.7,-10.7,-15.2,-10.5,-16.1,-11.0,-15.5,-10.3,-15.8,
-10.6,-15.3,-11.1,-16.0,-10.8,-15.1,-10.4,-15.9,-11.3,-15.6,
-10.9,-16.2,-10.5,-15.4,-11.0,-15.8,-10.7,-15.2,-10.3,-16.0,
-11.1,-15.6,-10.6,-16.1,-10.9,-15.3,-11.2,-15.9,-10.5,-15.5,
-10.4,-15.8,-11.0,-15.2,-10.7,-16.3,-10.5,-15.6,-11.1,-15.4,
-10.8,-16.0,-10.3,-15.5,-11.2,-15.9,-10.6,-15.3,-10.9,-16.1,
-11.0,-15.4,-10.7,-16.2,-10.4,-15.7,-11.1,-15.5,-10.6,-15.9];
const ekfD = [
-14.9,-10.4,-15.3,-10.1,-14.7,-10.8,-15.5,-9.9,-14.6,-10.6,
-15.2,-10.0,-14.8,-10.7,-15.6,-9.8,-14.5,-10.3,-15.4,-10.9,
-14.7,-10.5,-15.7,-9.9,-14.9,-10.2,-15.1,-10.8,-14.6,-10.1,
-15.5,-10.7,-14.6,-10.0,-15.3,-9.8,-14.8,-10.6,-15.6,-10.3,
-14.8,-9.9,-15.4,-10.5,-14.7,-10.9,-15.2,-10.1,-14.5,-10.7,
-15.6,-10.2,-14.9,-10.8,-15.1,-9.9,-14.6,-10.4,-15.8,-10.0,
-14.7,-10.6,-15.5,-10.1,-14.8,-10.9,-15.3,-9.8,-14.6,-10.5,
-15.4,-10.3,-14.7,-10.7,-15.7,-10.0,-14.9,-10.6,-15.2,-9.9,
-14.8,-10.9,-15.5,-10.2,-14.6,-10.4,-15.6,-10.8,-14.7,-10.1,
-15.3,-10.5,-14.9,-10.0,-15.7,-10.7,-14.6,-10.3,-15.4,-9.9,
-15.6,-10.8,-15.2,-11.0,-16.0,-10.4,-15.4,-10.9,-15.8,-10.6,
-15.3,-11.1,-15.9,-10.5,-15.1,-10.8,-16.1,-10.3,-15.5,-11.0,
-15.8,-10.6,-15.2,-11.2,-15.7,-10.4,-15.4,-10.9,-16.2,-10.7,
-15.5,-11.0,-16.0,-10.6,-15.3,-11.1,-15.9,-10.5,-15.2,-10.8,
-16.1,-10.7,-15.4,-10.9,-15.8,-10.3,-15.6,-11.2,-15.1,-10.6,
-15.7,-11.0,-15.3,-10.5,-16.2,-10.8,-15.5,-11.1,-15.9,-10.4,
-15.4,-10.9,-16.0,-10.6,-15.2,-11.3,-15.8,-10.7,-15.5,-11.0,
-16.1,-10.5,-15.6,-11.1,-15.3,-10.8,-15.9,-10.4,-15.7,-11.2,
-15.5,-10.9,-16.2,-10.6,-15.4,-11.0,-15.8,-10.7,-16.0,-10.5,
-15.9,-11.1,-15.3,-10.8,-16.1,-10.5,-15.6,-11.2,-15.4,-10.9,
-15.6,-10.6,-16.0,-11.0,-15.3,-10.7,-15.9,-11.3,-15.5,-10.8,
-16.2,-10.9,-15.4,-10.6,-15.8,-11.1,-15.6,-10.5,-16.0,-10.8,
-15.5,-11.2,-15.9,-10.7,-16.3,-10.9,-15.3,-11.0,-15.7,-10.6,
-15.8,-10.8,-16.1,-11.1,-15.4,-10.6,-15.9,-10.9,-15.6,-11.3,
-16.0,-10.7,-15.5,-11.0,-15.8,-10.5,-16.2,-10.9,-15.4,-11.1];

const labelTexts = ['BRLE', 'IIR\u2013\u03b3', 'IIR\u2013KALMAN', 'CRA', 'EKF'];
const labelTimes = [1908, 2227, 3899, 1267, 1443];
const labelValues = [33.9, 11.7, 12.6, -4.1, -23.9];

// merge the sample sets in time order (A, C, B, D within each 20-unit block) with time stamps
function traceOf(sets) {
  const out = [];
  const n = sets[0].length;
  const step = 4 * sampleStep / sets.length;
  for (let i = 0; i < n; i++) {
    for (let k = 0; k < sets.length; k++) {
      if (i < sets[k].length) out.push([(i * sets.length + k) * step, sets[k][i]]);
    }
  }
  return out;
}

const chart = echarts.init(document.getElementById('chart'), null, {renderer: 'canvas'});
const FONT = 'Liberation Sans, Arial, Helvetica, sans-serif';
function axisBase(extra) {
  return Object.assign({
    axisLine: {show: true, onZero: false, lineStyle: {color: '#000', width: 1}},
    axisTick: {show: true, inside: true, length: 6, lineStyle: {color: '#000', width: 1}},
    splitLine: {show: false}
  }, extra);
}
function lineSeries(name, data, dotted) {
  return {
    name: name, type: 'line', data: data, symbol: 'none', silent: true,
    lineStyle: {color: '#000', width: dotted ? 1.3 : 1.7, type: dotted ? [1, 3] : 'solid'},
    animation: false
  };
}
chart.setOption({
  animation: false,
  backgroundColor: '#fff',
  grid: {left: 45, right: 18, top: 40, bottom: 42},
  xAxis: [
    axisBase({type: 'value', min: 0, max: 5000, interval: 500, position: 'bottom',
      name: 'time', nameLocation: 'middle', nameGap: 29,
      nameTextStyle: {color: '#000', fontSize: 14, fontFamily: FONT},
      axisLabel: {color: '#000', fontSize: 14, fontFamily: FONT, margin: 8,
        formatter: v => String(v)}}),
    axisBase({type: 'value', min: 0, max: 5000, interval: 500, position: 'top',
      axisLabel: {show: false}})
  ],
  yAxis: [
    axisBase({type: 'value', min: -50, max: 50, interval: 10, position: 'left',
      axisLabel: {color: '#000', fontSize: 14, fontFamily: FONT, margin: 6,
        formatter: v => String(v)}}),
    axisBase({type: 'value', min: -50, max: 50, interval: 10, position: 'right',
      axisLabel: {show: false}})
  ],
  graphic: [{
    type: 'text', x: 400, y: 18, z: 100,
    style: {
      text: '{a|Tracking Error | }{b|w(n)\u2013y(n)}{a| |}{c|2}{a| (dB)}',
      align: 'center', verticalAlign: 'middle',
      rich: {
        a: {fontSize: 14, fontFamily: FONT, fill: '#000', lineHeight: 18, verticalAlign: 'bottom'},
        b: {fontSize: 14, fontFamily: FONT, fontStyle: 'italic', fill: '#000', lineHeight: 18, verticalAlign: 'bottom'},
        c: {fontSize: 10, fontFamily: FONT, fill: '#000', lineHeight: 18, verticalAlign: 'top'}
      }
    }
  }],
  series: [
    lineSeries('BRLE', traceOf([brleA, brleB]), true),
    lineSeries('IIR-KALMAN', traceOf([iirKalmanA, iirKalmanC, iirKalmanB, iirKalmanD]), false),
    lineSeries('IIR-gamma', traceOf([iirGammaA, iirGammaC, iirGammaB, iirGammaD]), false),
    lineSeries('CRA', traceOf([craA, craC, craB, craD]), false),
    lineSeries('EKF', traceOf([ekfA, ekfC, ekfB, ekfD]), false),
    {
      type: 'scatter', symbolSize: 0, silent: true, z: 10,
      data: labelTexts.map((t, i) => ({value: [labelTimes[i], labelValues[i]], name: t})),
      label: {show: true, position: 'inside', formatter: p => p.name,
        color: '#000', fontSize: 14, fontFamily: FONT, textBorderWidth: 0}
    }
  ]
});
</script>
</body>
</html>
